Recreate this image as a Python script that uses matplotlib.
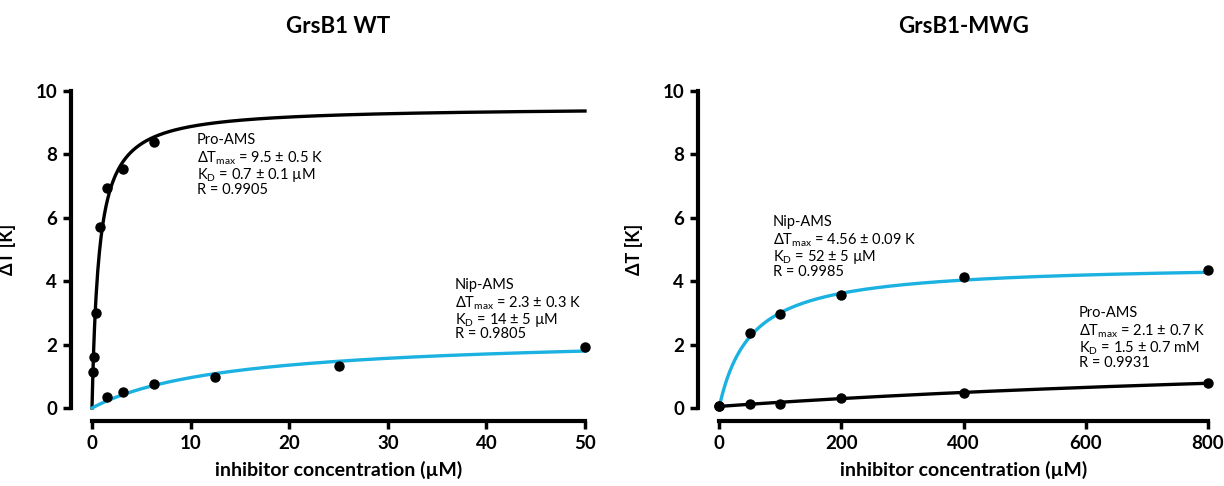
import numpy as np
import matplotlib
matplotlib.use("Agg")
import matplotlib.pyplot as plt

plt.rcParams['font.family'] = ['Lato', 'DejaVu Sans']
plt.rcParams['mathtext.fontset'] = 'custom'
plt.rcParams['mathtext.rm'] = 'Lato'

# ---- data ----
wt_pro_x = [0.1, 0.2, 0.39, 0.78, 1.5625, 3.125, 6.25]
wt_pro_y = [1.15, 1.6, 3.0, 5.7, 6.95, 7.55, 8.4]
wt_nip_x = [1.5625, 3.125, 6.25, 12.5, 25, 50]
wt_nip_y = [0.35, 0.52, 0.75, 0.97, 1.32, 1.92]
wt_pro_fit = (9.5, 0.7)     # dTmax, KD (uM)
wt_nip_fit = (2.3, 14.0)

mwg_nip_x = [0, 50, 100, 200, 400, 800]
mwg_nip_y = [0.05, 2.38, 2.95, 3.55, 4.12, 4.35]
mwg_pro_x = [0, 50, 100, 200, 400, 800]
mwg_pro_y = [0.05, 0.12, 0.13, 0.32, 0.48, 0.78]
mwg_nip_fit = (4.56, 52.0)
mwg_pro_fit = (2.1, 1500.0)

titles = ["GrsB1 WT", "GrsB1-MWG"]
xlabel = "inhibitor concentration (µM)"
ylabel = "ΔT [K]"
wt_xticks = [0, 10, 20, 30, 40, 50]
mwg_xticks = [0, 200, 400, 600, 800]
yticks = [0, 2, 4, 6, 8, 10]

ann_wt_pro = ["Pro-AMS", "ΔT$_\\mathregular{max}$ = 9.5 ± 0.5 K", "K$_\\mathregular{D}$ = 0.7 ± 0.1 µM", "R = 0.9905"]
ann_wt_nip = ["Nip-AMS", "ΔT$_\\mathregular{max}$ = 2.3 ± 0.3 K", "K$_\\mathregular{D}$ = 14 ± 5 µM", "R = 0.9805"]
ann_mwg_nip = ["Nip-AMS", "ΔT$_\\mathregular{max}$ = 4.56 ± 0.09 K", "K$_\\mathregular{D}$ = 52 ± 5 µM", "R = 0.9985"]
ann_mwg_pro = ["Pro-AMS", "ΔT$_\\mathregular{max}$ = 2.1 ± 0.7 K", "K$_\\mathregular{D}$ = 1.5 ± 0.7 mM", "R = 0.9931"]

BLUE = '#1bb1e0'
BLACK = '#000000'

fig = plt.figure(figsize=(12.24, 4.86), dpi=100)
W, H = 1224, 486
ax1 = fig.add_axes([92 / W, (H - 408) / H, (585 - 92) / W, (408 - 91) / H])
ax2 = fig.add_axes([719 / W, (H - 408) / H, (1208 - 719) / W, (408 - 91) / H])

def hyper(x, p):
    return p[0] * x / (p[1] + x)

def style(ax, xmax, xticks, title):
    ax.set_xlim(0, xmax)
    ax.set_ylim(0, 10)
    ax.set_xticks(xticks)
    ax.set_yticks(yticks)
    for s in ['top', 'right']:
        ax.spines[s].set_visible(False)
    ax.spines['left'].set_position(('outward', 15))
    ax.spines['bottom'].set_position(('outward', 9.5))
    for s in ['left', 'bottom']:
        ax.spines[s].set_linewidth(3)
    ax.tick_params(width=2.5, length=6, labelsize=13.5, pad=4)
    for lab in ax.get_xticklabels() + ax.get_yticklabels():
        lab.set_fontweight('bold')
    ax.set_xlabel(xlabel, fontsize=14, fontweight='bold', labelpad=6)
    ax.set_ylabel(ylabel, fontsize=13, fontweight='bold', labelpad=14)
    ax.set_title(title, fontsize=16, fontweight='bold', pad=42)

def annot(ax, lines, x, ytop_px):
    for i, t in enumerate(lines):
        ax.annotate(t, xy=(x, 10), xycoords='data',
                    xytext=(0, -(ytop_px - 91) * 0.72 - i * 16.5 * 0.72),
                    textcoords='offset points', fontsize=10.5, va='top', ha='left')

# left
xs = np.linspace(0, 50, 600)
ax1.plot(xs, hyper(xs, wt_pro_fit), color=BLACK, lw=2.4, clip_on=False, zorder=2)
ax1.plot(xs, hyper(xs, wt_nip_fit), color=BLUE, lw=2.4, clip_on=False, zorder=2)
ax1.plot(wt_pro_x, wt_pro_y, 'o', color=BLACK, ms=6.5, clip_on=False, zorder=3)
ax1.plot(wt_nip_x, wt_nip_y, 'o', color=BLACK, ms=6.5, clip_on=False, zorder=3)
style(ax1, 50, wt_xticks, titles[0])
annot(ax1, ann_wt_pro, 10.6, 133)
annot(ax1, ann_wt_nip, 36.8, 278)

# right
xs2 = np.linspace(0, 800, 800)
ax2.plot(xs2, hyper(xs2, mwg_nip_fit), color=BLUE, lw=2.4, clip_on=False, zorder=2)
ax2.plot(xs2, hyper(xs2, mwg_pro_fit) + 0.05, color=BLACK, lw=2.4, clip_on=False, zorder=2)
ax2.plot(mwg_nip_x, mwg_nip_y, 'o', color=BLACK, ms=6.5, clip_on=False, zorder=3)
ax2.plot(mwg_pro_x, mwg_pro_y, 'o', color=BLACK, ms=6.5, clip_on=False, zorder=3)
style(ax2, 800, mwg_xticks, titles[1])
annot(ax2, ann_mwg_nip, 88, 215)
annot(ax2, ann_mwg_pro, 589, 306)

fig.savefig("out.png", dpi=100)
